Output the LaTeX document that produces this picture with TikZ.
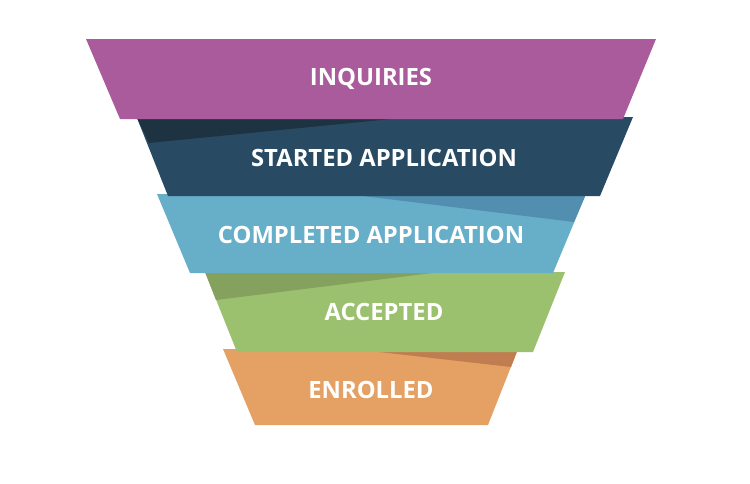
\documentclass[tikz,border=0pt]{standalone}
\usepackage{fontspec}
\setsansfont{Open Sans}
\definecolor{inqcol}{HTML}{AA5B9C}
\definecolor{stacol}{HTML}{284A63}
\definecolor{stadark}{HTML}{1E3341}
\definecolor{comcol}{HTML}{67AEC9}
\definecolor{comdark}{HTML}{518EAF}
\definecolor{acccol}{HTML}{9BC16F}
\definecolor{accdark}{HTML}{84A15E}
\definecolor{enrcol}{HTML}{E5A064}
\definecolor{enrdark}{HTML}{C07E50}
\tikzset{
  stage/.style={text=white,font=\sffamily\bfseries\fontsize{23.8}{28}\selectfont}
}
\begin{document}
\begin{tikzpicture}[x=1pt,y=-1pt]
   \useasboundingbox (0,0) rectangle (750,483);
   % lowest band first, each upper band lies over the one below
   \fill[enrcol] (223,349) -- (518,349) -- (488,425) -- (255,425) -- cycle;
   \fill[enrdark] (353,349) -- (518,349) -- (511,367) -- cycle;
   \fill[acccol] (205,272) -- (565,272) -- (533,352) -- (237,352) -- cycle;
   \fill[accdark] (205,272) -- (440,272) -- (216,300) -- cycle;
   \fill[comcol] (157,194) -- (586,194) -- (553,273) -- (190,273) -- cycle;
   \fill[comdark] (347,194) -- (586,194) -- (574,222) -- cycle;
   \fill[stacol] (137,118) -- (633,117) -- (600,196) -- (168,196) -- cycle;
   \fill[stadark] (137,118) -- (401,118) -- (149,143) -- cycle;
   \fill[inqcol] (86,39) -- (656,39) -- (623,119) -- (120,119) -- cycle;
   % labels
   \node[stage] (inquiries) at (371,79) {INQUIRIES};
   \node[stage] (started) at (384,158) {STARTED APPLICATION};
   \node[stage] (completed) at (371,235) {COMPLETED APPLICATION};
   \node[stage] (accepted) at (384,312) {ACCEPTED};
   \node[stage] (enrolled) at (371,390) {ENROLLED};
\end{tikzpicture}
\end{document}
